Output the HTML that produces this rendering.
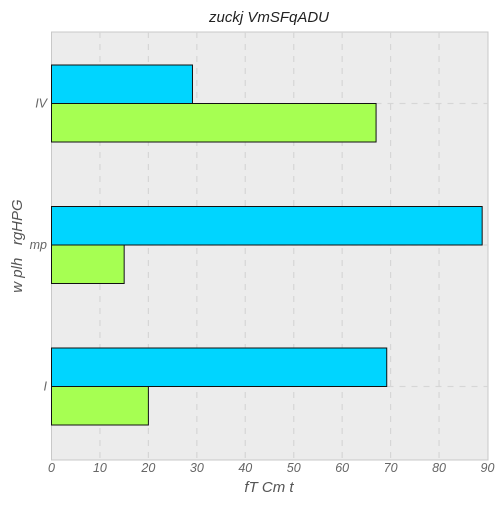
<!DOCTYPE html>
<html><head><meta charset="utf-8"><style>
body{margin:0;background:#fff;}
svg text{font-family:"Liberation Sans",sans-serif;font-style:italic;}
</style></head><body>
<svg width="504" height="504" xmlns="http://www.w3.org/2000/svg" id="chart">
<rect x="51.5" y="32" width="436.5" height="428" fill="#ececec" stroke="#c8c8c8"/>
<g id="grid"></g><g id="bars"></g><g id="ticks"></g>
<text x="269" y="22" text-anchor="middle" font-size="15" fill="#222">zuckj VmSFqADU</text>
<text x="269" y="492" text-anchor="middle" font-size="15" fill="#555">fT Cm t</text>
<text x="22" y="246" text-anchor="middle" font-size="15" fill="#555" style="white-space:pre" transform="rotate(-90 22 246)">w plh   rgHPG</text>
</svg>
<script>
const categories=["I","mp","IV"];
const seriesCyan=[69.2,88.9,29.1];
const seriesGreen=[20,15,67];
const xTicks=[0,10,20,30,40,50,60,70,80,90];
const NS="http://www.w3.org/2000/svg";
const x=v=>51.5+v*(436/90);
const y=i=>386.5-i*141.5;
const bh=38.5;
function mk(tag,attrs,parent){const e=document.createElementNS(NS,tag);for(const k in attrs)e.setAttribute(k,attrs[k]);document.getElementById(parent).appendChild(e);return e;}
xTicks.forEach(t=>{
  if(t>0&&t<90){const g=mk('line',{x1:x(t),x2:x(t),y1:32,y2:460,stroke:'#d6d6d6','stroke-dasharray':'6,6','stroke-width':1.2},'grid');
  
  }
  const l=mk('text',{x:x(t),y:472,'text-anchor':'middle','font-size':12.5,fill:'#666'},'ticks');l.textContent=t;
  
  
});
categories.forEach((c,i)=>{
  const g=mk('line',{x1:51.5,x2:488,y1:y(i),y2:y(i),stroke:'#d6d6d6','stroke-dasharray':'6,6','stroke-width':1.2},'grid');
  
  
  const t=mk('text',{x:47,y:y(i)+4,'text-anchor':'end','font-size':12.5,fill:'#666'},'ticks');t.textContent=c;
  
  
  const a=mk('rect',{x:x(0),y:y(i)-bh,width:x(seriesCyan[i])-x(0),height:bh,fill:'#00d5ff',stroke:'#111','stroke-width':1},'bars');
  
  
  const b=mk('rect',{x:x(0),y:y(i),width:x(seriesGreen[i])-x(0),height:bh,fill:'#a6ff52',stroke:'#111','stroke-width':1},'bars');
  
  
});
</script>
</body></html>
